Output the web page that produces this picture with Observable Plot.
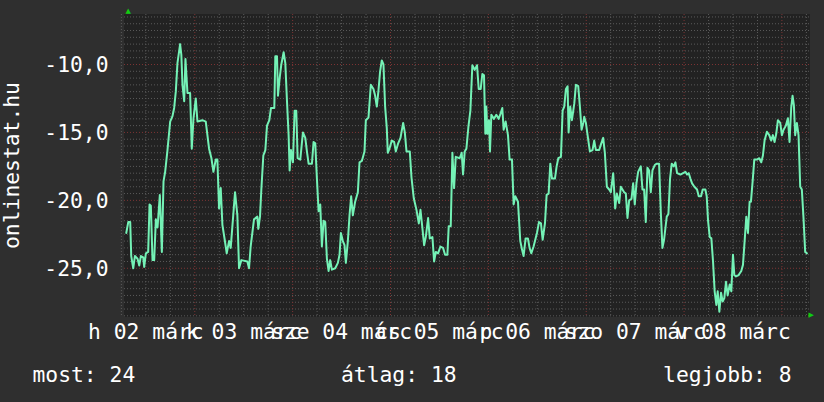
<!DOCTYPE html>
<html><head><meta charset="utf-8">
<script src="https://cdn.jsdelivr.net/npm/d3@7"></script>
<script src="https://cdn.jsdelivr.net/npm/@observablehq/plot@0.6"></script>
<style>
html,body{margin:0;padding:0;background:#2f2f2f;}
#chart svg{display:block;}
</style></head><body><div id="chart"></div>
<script>
// hours since 2020-03-02 00:00 (hétfő)
const hours = [
7.19,7.68,8.16,8.41,8.9,9.31,9.96,10.37,10.78,11.35,11.59,12.0,12.57,12.9,13.22,13.63,14.04,14.45,14.86,15.43,15.92,16.33,16.73,17.3,17.96,18.53,18.94,19.34,19.75,20.4,20.7,20.98,21.4,21.71,22.2,22.85,23.26,23.67,24.24,24.65,25.87,26.69,27.5,28.08,28.57,29.14,29.54,29.95,30.36,30.77,31.34,31.83,32.4,32.81,33.87,34.44,34.85,35.42,36.89,37.3,37.7,38.52,39.34,39.58,39.99,
40.32,40.81,41.3,41.71,42.28,42.69,43.5,43.75,44.16,44.4,44.81,45.22,45.79,46.2,46.61,47.01,47.26,47.59,48.07,48.48,48.89,49.22,49.87,50.52,51.1,51.5,51.91,52.73,53.13,53.54,53.95,54.36,54.77,55.17,55.58,55.99,56.4,56.81,57.21,57.62,58.44,59.09,59.5,59.83,60.31,60.72,61.05,61.54,61.95,62.35,62.76,63.33,63.99,64.4,64.97,65.62,65.95,66.6,67.17,67.82,68.23,68.64,69.05,69.45,69.86,70.27,70.68,71.09,71.33,71.74,72.31,72.88,73.29,
73.88,74.45,75.1,75.51,75.92,76.73,77.14,77.71,78.37,78.94,79.35,79.84,80.24,80.65,81.22,81.63,82.28,82.69,83.1,83.67,84.24,84.89,85.38,85.95,86.28,86.77,87.18,87.59,88.0,88.97,89.46,89.79,90.2,90.61,91.1,91.59,92.07,92.65,93.22,93.63,94.12,94.52,94.93,95.26,95.5,95.75,96.15,96.4,96.73,97.38,97.95,98.52,99.01,99.42,99.75,100.24,100.81,101.21,101.79,102.2,102.6,103.26,103.83,104.31,104.64,105.13,105.7,106.11,106.52,107.09,
107.92,108.41,108.9,109.31,109.88,110.29,110.78,111.19,111.6,112.33,112.74,113.15,113.8,114.21,114.61,115.02,115.43,115.68,116.08,116.49,117.06,117.47,118.04,118.45,118.86,119.27,119.51,119.92,120.33,120.9,121.55,121.96,122.37,123.18,123.59,124.16,124.57,125.06,125.63,126.04,126.61,127.1,127.51,128.08,128.49,128.89,129.3,129.71,130.12,130.53,131.1,131.51,131.91,132.32,132.73,133.38,133.79,134.2,134.61,135.01,135.42,135.83,136.24,136.81,137.3,137.87,138.28,138.69,139.09,139.75,140.16,140.56,140.97,
141.47,141.88,142.28,143.1,144.32,144.73,145.14,145.55,145.96,146.53,147.18,147.59,148.16,148.57,149.22,149.55,149.87,150.28,150.69,151.1,151.5,151.91,152.24,152.65,153.06,153.46,153.87,154.28,154.69,155.18,155.58,155.99,156.32,156.73,157.38,158.03,158.44,158.85,159.26,159.67,160.07,160.4,160.81,161.22,161.87,162.44,162.93,163.34,163.74,164.32,164.89,165.38,165.78,166.19,166.6,167.01,167.58,167.99,168.4,168.97,169.46,169.86,170.27,170.6,170.93,171.25,171.66,172.07,172.48,172.88,173.29,173.7,174.11
];
const values = [
-22.4,-21.6,-21.6,-24.1,-25.0,-24.1,-24.3,-24.8,-24.1,-24.2,-24.9,-23.9,-23.8,-20.3,-20.4,-24.4,-24.4,-21.4,-22.0,-19.6,-23.8,-18.6,-17.9,-16.3,-14.2,-13.8,-13.2,-12.0,-9.9,-8.5,-9.3,-11.5,-12.7,-9.6,-12.1,-12.1,-16.2,-14.0,-12.5,-14.2,-14.1,-14.2,-16.2,-16.9,-17.9,-17.0,-17.0,-20.6,-19.1,-21.8,-22.9,-23.9,-23.0,-23.5,-19.4,-21.1,-25.0,-24.4,-24.5,-25.0,-23.4,-21.4,-21.2,-22.1,-21.2,
-19.2,-16.7,-16.3,-14.5,-14.1,-13.2,-13.2,-9.4,-9.4,-12.3,-11.0,-10.0,-9.1,-9.9,-12.7,-15.2,-17.8,-16.3,-17.2,-13.4,-13.4,-16.9,-17.0,-15.0,-15.4,-16.4,-17.3,-17.3,-15.7,-15.8,-18.4,-20.8,-20.3,-23.4,-21.5,-21.6,-24.3,-25.2,-24.4,-25.1,-25.0,-24.6,-24.0,-22.4,-23.0,-23.3,-24.6,-23.0,-21.1,-19.7,-21.1,-20.1,-19.4,-17.2,-17.1,-16.4,-14.1,-13.9,-11.5,-11.8,-12.3,-13.1,-11.9,-10.5,-9.7,-10.0,-13.1,-14.7,-16.5,-16.2,-15.6,-15.7,-16.4,
-15.8,-15.4,-14.3,-15.0,-16.4,-16.4,-18.3,-19.85,-20.7,-21.7,-20.7,-22.1,-23.3,-22.7,-21.3,-22.8,-22.7,-24.5,-23.8,-23.9,-23.4,-23.5,-24.0,-24.0,-21.9,-21.9,-16.5,-19.1,-16.8,-16.9,-16.5,-18.1,-16.4,-16.2,-14.6,-13.4,-10.05,-10.4,-10.05,-11.8,-11.8,-10.7,-10.8,-15.1,-13.1,-15.1,-14.1,-16.4,-13.7,-14.0,-13.7,-14.0,-13.6,-13.2,-14.8,-14.2,-15.2,-17.0,-17.0,-20.3,-19.7,-20.1,-23.0,-23.7,-24.1,-22.8,-22.8,-23.5,-23.9,-23.4,
-22.4,-21.6,-21.7,-22.9,-21.7,-19.6,-19.5,-17.3,-18.4,-18.4,-17.5,-16.9,-16.8,-13.4,-13.1,-11.8,-11.6,-15.0,-13.1,-14.1,-12.9,-11.5,-11.6,-13.1,-14.8,-14.3,-13.85,-14.3,-15.2,-16.4,-16.3,-15.6,-16.3,-16.3,-15.9,-15.4,-16.5,-19.0,-19.2,-19.4,-18.0,-20.6,-19.5,-20.2,-19.0,-19.2,-19.4,-19.5,-21.3,-20.0,-19.9,-18.75,-20.3,-18.75,-17.9,-17.5,-19.2,-19.2,-21.6,-17.6,-17.8,-19.4,-17.8,-17.4,-17.3,-17.3,-20.8,-23.5,-22.9,-21.2,-21.0,-18.4,-17.3,
-17.5,-17.2,-18.0,-18.1,-17.9,-18.1,-18.0,-18.4,-18.75,-19.0,-19.2,-19.7,-19.7,-19.2,-19.2,-19.7,-21.45,-22.7,-22.8,-24.5,-26.7,-27.7,-26.7,-28.2,-26.8,-27.45,-27.2,-26.0,-27.0,-26.2,-26.7,-24.0,-25.5,-25.6,-25.5,-25.2,-24.75,-23.0,-21.2,-22.4,-20.1,-20.1,-18.6,-17.0,-17.0,-16.9,-17.2,-16.7,-15.6,-14.95,-15.2,-15.6,-15.2,-15.7,-15.1,-14.1,-14.3,-15.2,-14.8,-14.5,-13.95,-15.7,-13.2,-12.3,-13.0,-15.2,-14.3,-15.2,-19.0,-19.2,-21.3,-23.8,-23.9
];
const dayLabels = ["h 02 márc", "k 03 márc", "sze 04 márc", "cs 05 márc", "p 06 márc", "szo 07 márc", "v 08 márc"];
const dayLabelHours = [12, 36, 60, 84, 108, 132, 156];
const yTicks = [-10, -15, -20, -25];
const yTitle = "onlinestat.hu";
const statNow = 24, statAvg = 18, statBest = 8;

const data = hours.map((h, i) => ({h, v: values[i]}));
const xLabels = dayLabels.map((label, i) => ({h: dayLabelHours[i], label}));
const majorX = d3.range(24, 175, 24);
const minorX = d3.range(6, 175, 6).filter(h => h % 24 !== 0);
const minorY = d3.range(-28.5, -6.4, 0.5).filter(v => v % 5 !== 0);

const font = "DejaVu Sans Mono";
const txt = {fontFamily: font, fontSize: 21.33, fill: "#ffffff"};

const chart = Plot.plot({
  width: 824, height: 402,
  marginLeft: 124, marginRight: 15, marginTop: 14, marginBottom: 86,
  style: {background: "#2f2f2f", fontFamily: font},
  x: {domain: [6.76, 174.76], axis: null},
  y: {domain: [-28.55, -6.32], axis: null},
  marks: [
    Plot.frame({fill: "#222222", stroke: "#222222"}),
    Plot.ruleY(minorY, {stroke: "#5a5a5a", strokeDasharray: "1,2"}),
    Plot.ruleX(minorX, {stroke: "#5a5a5a", strokeDasharray: "1,2"}),
    Plot.ruleY(yTicks, {stroke: "#7e3434", strokeDasharray: "1,2"}),
    Plot.ruleX(majorX, {stroke: "#7e3434", strokeDasharray: "1,2"}),
    Plot.line(data, {x: "h", y: "v", stroke: "#74f2b6", strokeWidth: 2}),
    Plot.text(yTicks, {y: d => d, frameAnchor: "left", text: d => d.toFixed(1).replace(".", ","), textAnchor: "end", dx: -16, dy: 1, lineAnchor: "middle", ...txt}),
    Plot.text(xLabels, {x: "h", text: "label", frameAnchor: "bottom", lineAnchor: "bottom", dy: 22, ...txt}),
    Plot.text([yTitle], {frameAnchor: "left", rotate: -90, dx: -105.5, textAnchor: "middle", lineAnchor: "bottom", ...txt}),
    Plot.text([`most: ${statNow}`], {frameAnchor: "bottom-left", textAnchor: "start", lineAnchor: "bottom", dx: -92, dy: 65, ...txt}),
    Plot.text([`átlag: ${statAvg}`], {frameAnchor: "bottom", textAnchor: "start", lineAnchor: "bottom", dx: -126, dy: 65, ...txt}),
    Plot.text([`legjobb: ${statBest}`], {frameAnchor: "bottom-right", textAnchor: "end", lineAnchor: "bottom", dx: -18, dy: 65, ...txt}),
    Plot.text(["▲"], {frameAnchor: "top-left", dx: 1, dy: -4, lineAnchor: "middle", fontSize: 7, fill: "#11cc11", fontFamily: "DejaVu Sans"}),
    Plot.text(["▶"], {frameAnchor: "bottom-right", dx: 4.5, dy: -1.5, lineAnchor: "middle", fontSize: 7, fill: "#11cc11", fontFamily: "DejaVu Sans"})
  ]
});
document.getElementById("chart").appendChild(chart);
</script></body></html>
